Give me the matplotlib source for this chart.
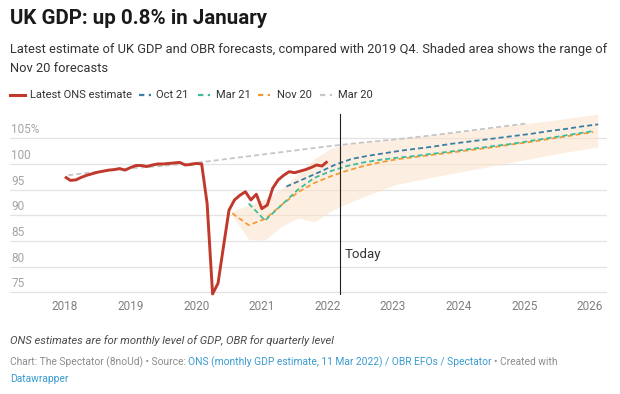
import matplotlib
matplotlib.use("Agg")
import matplotlib.pyplot as plt
from matplotlib.lines import Line2D
import numpy as np

plt.rcParams['font.family'] = ['Roboto', 'DejaVu Sans']

# monthly ONS estimate, Jan 2018 .. Jan 2022 (2019 Q4 = 100)
ons_gdp = [97.5, 96.8, 96.9, 97.4, 97.8, 98.1, 98.4, 98.6, 98.8, 98.9, 99.1, 98.8,
           99.3, 99.7, 99.7, 99.5, 99.8, 100.0, 100.0, 100.1, 100.2, 100.3, 99.8, 99.9,
           100.1, 100.0, 92.3, 74.7, 76.8, 84.0, 91.0, 93.0, 93.9, 94.6, 93.0, 94.1,
           91.3, 92.0, 95.3, 96.9, 97.8, 98.5, 98.3, 98.6, 98.9, 99.3, 99.8, 99.6,
           100.5]

# OBR forecasts (quarterly)
oct21_x = [2021.375, 2021.625, 2021.875, 2022.125, 2022.375, 2022.625, 2022.875, 2023.125,
           2023.375, 2023.625, 2023.875, 2024.125, 2024.375, 2024.625, 2024.875, 2025.125,
           2025.375, 2025.625, 2025.875, 2026.125]
oct21 = [95.6, 97.0, 98.4, 99.9, 101.0, 101.6, 102.1, 102.6,
         103.0, 103.4, 103.9, 104.3, 104.7, 105.1, 105.5, 105.9,
         106.4, 106.8, 107.3, 107.7]

mar21_x = [2020.8, 2021.05, 2021.3, 2021.55, 2021.8, 2022.05, 2022.3, 2022.55, 2022.8,
           2023.05, 2023.3, 2023.55, 2023.8, 2024.05, 2024.3, 2024.55, 2024.8, 2025.05,
           2025.3, 2025.55, 2025.8, 2026.05]
mar21 = [92.3, 89.0, 92.0, 95.0, 97.3, 98.6, 99.6, 100.3, 100.8,
         101.2, 101.5, 101.9, 102.3, 102.7, 103.1, 103.5, 103.9, 104.4,
         104.9, 105.4, 105.9, 106.4]

nov20_x = [2020.55, 2020.8, 2021.05, 2021.3, 2021.55, 2021.8, 2022.05, 2022.3, 2022.55,
           2022.8, 2023.05, 2023.3, 2023.55, 2023.8, 2024.05, 2024.3, 2024.55, 2024.8,
           2025.05, 2025.3, 2025.55, 2025.8, 2026.05]
nov20 = [90.4, 88.1, 89.3, 92.0, 94.5, 96.3, 97.6, 98.7, 99.6,
         100.3, 100.9, 101.3, 101.7, 102.1, 102.5, 102.9, 103.3, 103.8,
         104.2, 104.7, 105.2, 105.7, 106.2]

mar20_x = [2018.05, 2018.55, 2019.05, 2019.55, 2020.05, 2020.55, 2021.05, 2021.55,
           2022.05, 2022.55, 2023.05, 2023.55, 2024.05, 2024.55, 2025.05]
mar20 = [97.8, 98.6, 99.2, 99.7, 100.3, 101.1, 101.9, 102.7,
         103.5, 104.2, 104.8, 105.5, 106.3, 107.1, 107.9]

# range of Nov 20 forecasts
range_x = [2020.55, 2020.8, 2021.05, 2021.3, 2021.55, 2021.8, 2022.05, 2022.3, 2022.55,
           2022.8, 2023.05, 2023.55, 2024.05, 2024.55, 2025.05, 2025.55, 2026.12]
range_low = [90.0, 85.3, 85.2, 87.8, 89.5, 88.7, 90.8, 92.3, 93.6,
             94.8, 96.0, 97.3, 98.5, 99.7, 100.9, 102.1, 103.3]
range_high = [90.8, 92.0, 93.2, 95.2, 98.0, 101.0, 103.0, 103.9, 104.3,
              104.6, 104.9, 105.6, 106.3, 107.1, 107.9, 108.7, 109.7]

years = [2018, 2019, 2020, 2021, 2022, 2023, 2024, 2025, 2026]
y_ticks = [75, 80, 85, 90, 95, 100, 105]
y_labels = ['75', '80', '85', '90', '95', '100', '105%']
today = 2022.19

RED = '#c0392b'
BLUE = '#3a7ea6'
TEAL = '#3dbb9c'
ORANGE = '#f39a34'
GREY = '#c6c6c6'

W, H = 620, 394
fig = plt.figure(figsize=(W / 100, H / 100), dpi=100)


def fx(px):
    return px / W


def fy(py):
    return 1 - py / H


ax = fig.add_axes([fx(10), fy(295), fx(607) - fx(10), fy(110) - fy(295)])
ax.set_xlim(2017.163, 2026.26)
ax.set_ylim(74.5, 110.5)
for s in ax.spines.values():
    s.set_visible(False)
ax.set_yticks([])
ax.set_xticks(years)
ax.set_xticklabels([str(y) for y in years])
ax.tick_params(axis='x', length=0, pad=3.5, labelsize=8.5, labelcolor='#808080')

for v, lab in zip(y_ticks, y_labels):
    ax.axhline(v, color='#e3e3e3', lw=0.9, zorder=0)
    ax.annotate(lab, xy=(0, v), xycoords=ax.get_yaxis_transform(),
                xytext=(1, 1.5), textcoords='offset points', va='bottom', ha='left',
                fontsize=8.5, color='#a5a5a5')

ax.fill_between(range_x, range_low, range_high, color='#fbe0c4', alpha=0.5, lw=0, zorder=1)

dash = (2.8, 1.7)
ax.plot(mar20_x, mar20, color=GREY, lw=1.3, dashes=dash, zorder=2)
ax.plot(nov20_x, nov20, color=ORANGE, lw=1.3, dashes=dash, zorder=3)
ax.plot(mar21_x, mar21, color=TEAL, lw=1.3, dashes=dash, zorder=4)
ax.plot(oct21_x, oct21, color=BLUE, lw=1.3, dashes=dash, zorder=5)

ons_x = 2018 + np.arange(len(ons_gdp)) / 12
ax.plot(ons_x, ons_gdp, color=RED, lw=2.1, zorder=6, clip_on=False,
        solid_joinstyle='round', solid_capstyle='butt')

ax.plot([today, today], [74.6, 109.8], color='#222222', lw=0.8, zorder=7)
ax.text(today + 0.07, 82.4, 'Today', fontsize=9.5, color='#333333', va='center', ha='left')

# header
fig.text(fx(10), fy(19), 'UK GDP: up 0.8% in January', fontsize=14.8, fontweight='bold',
         color='#1a1a1a', va='center')
fig.text(fx(10), fy(50), 'Latest estimate of UK GDP and OBR forecasts, compared with 2019 Q4. '
         'Shaded area shows the range of', fontsize=9.3, color='#333333', va='center')
fig.text(fx(10), fy(68), 'Nov 20 forecasts', fontsize=9.3, color='#333333', va='center')

# legend
leg_y = 95
fig.add_artist(Line2D([fx(10), fx(25)], [fy(leg_y)] * 2, color=RED, lw=2.2,
                      transform=fig.transFigure))
fig.text(fx(30), fy(leg_y), 'Latest ONS estimate', fontsize=8.0, color='#333333', va='center')
for x0, tx, col, lab in [(139, 156, BLUE, 'Oct 21'), (198, 216, TEAL, 'Mar 21'),
                         (258, 277, ORANGE, 'Nov 20'), (320, 338, GREY, 'Mar 20')]:
    fig.add_artist(Line2D([fx(x0), fx(x0 + 12)], [fy(leg_y)] * 2, color=col, lw=1.6,
                          dashes=(2.4, 2.0), transform=fig.transFigure))
    fig.text(fx(tx), fy(leg_y), lab, fontsize=8.0, color='#333333', va='center')

# footer
fig.text(fx(10), fy(341), 'ONS estimates are for monthly level of GDP, OBR for quarterly level',
         fontsize=8.15, style='italic', color='#4a4a4a', va='center')

renderer = fig.canvas.get_renderer()


def run_text(x_px, y_px, parts, size):
    probe = fig.text(0, 0, 'x x', fontsize=size)
    w2 = probe.get_window_extent(renderer).width
    probe.set_text('xx')
    space = w2 - probe.get_window_extent(renderer).width
    probe.remove()
    x = x_px
    for s, col in parts:
        t = fig.text(fx(x), fy(y_px), s, fontsize=size, color=col, va='center')
        x += t.get_window_extent(renderer).width + space


SRC_GREY = '#8c8c8c'
LINK = '#3a9bd0'
run_text(10, 362, [('Chart: The Spectator (8noUd) • Source:', SRC_GREY),
                   ('ONS (monthly GDP estimate, 11 Mar 2022) / OBR EFOs / Spectator', LINK),
                   ('• Created with', SRC_GREY)], 7.35)
fig.text(fx(10), fy(379), 'Datawrapper', fontsize=7.35, color=LINK, va='center')

fig.savefig('out.png', dpi=100, facecolor='white')
